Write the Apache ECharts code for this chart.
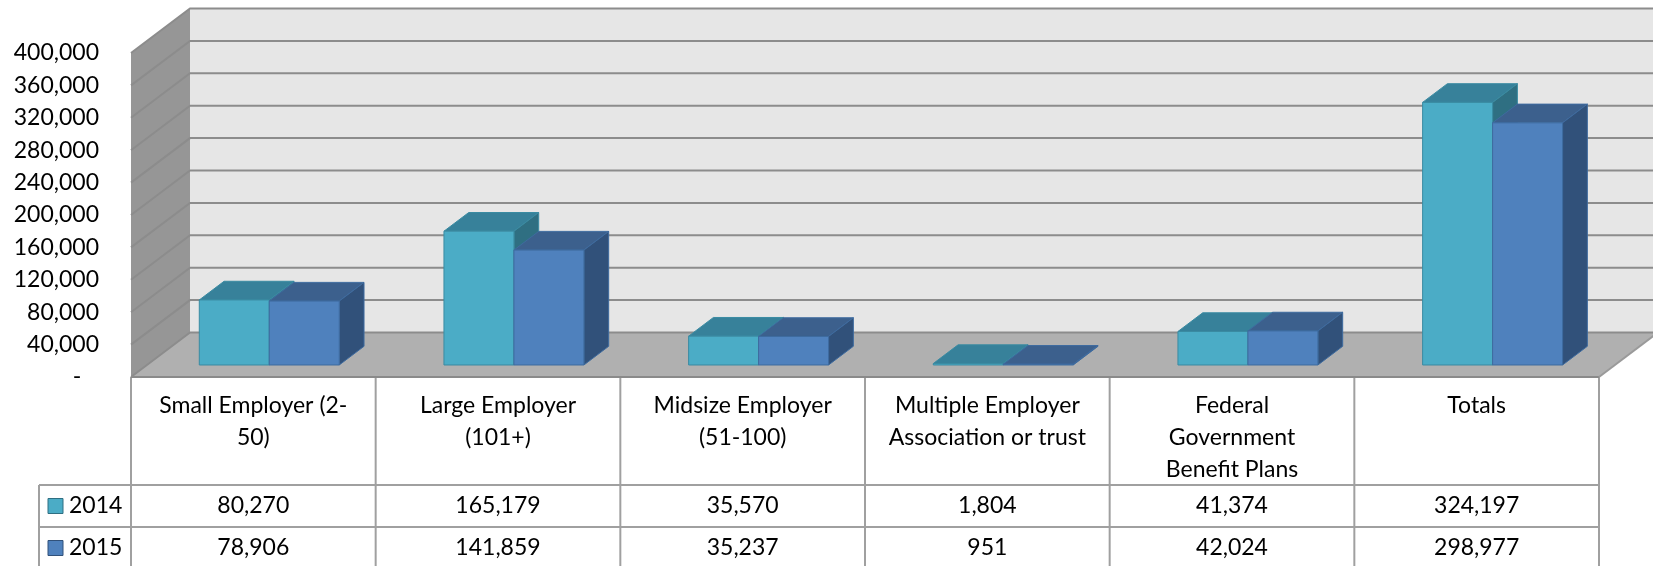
<!DOCTYPE html>
<html>
<head>
<meta charset="utf-8">
<script src="https://cdn.jsdelivr.net/npm/echarts@6/dist/echarts.min.js"></script>
<style>
    html, body { margin: 0; padding: 0; background: #fff; }
    #main { width: 1653px; height: 566px; }
</style>
</head>
<body>
<div id="main"></div>
<script>
var categories = ['Small Employer (2-\n50)', 'Large Employer\n(101+)', 'Midsize Employer\n(51-100)',
    'Multiple Employer\nAssociation or trust', 'Federal\nGovernment\nBenefit Plans', 'Totals'];
var years = ['2014', '2015'];
var values2014 = [80270, 165179, 35570, 1804, 41374, 324197];
var values2015 = [78906, 141859, 35237, 951, 42024, 298977];
var yTicks = [0, 40000, 80000, 120000, 160000, 200000, 240000, 280000, 320000, 360000, 400000];

// layout of the fake 3d box
var GRID_LEFT = 131, GRID_TOP = 53, GRID_BOTTOM = 189, GRID_RIGHT = 54;
var GRID_WIDTH = 1653 - GRID_LEFT - GRID_RIGHT;
var DX = 59, DY = -44.5;        // depth offset of back wall
var F1 = 0.27, F2 = 0.69;       // bar front/back depth
var BAR_FRAC = 0.286;
var FONT = 'Lato, "Open Sans", sans-serif';
var FS = 23;

var barColors = [
    {front: '#4BACC6', top: '#37819A', side: '#2F6F82', line: '#3A8BA2'},
    {front: '#4F81BD', top: '#3C608D', side: '#31517A', line: '#3E6B9F'}
];

var chart = echarts.init(document.getElementById('main'));

function fmt(v) {
    if (v === 0) return '-   ';
    return String(v).replace(/\B(?=(\d{3})+(?!\d))/g, ',');
}

function wallItem(params, api) {
    var cs = params.coordSys;
    var yb = api.coord([0, 0])[1];
    var yt = api.coord([0, yTicks[yTicks.length - 1]])[1];
    var xl = cs.x, xr = cs.x + cs.width;
    return {
        type: 'group',
        children: [
            {type: 'rect', shape: {x: xl + DX, y: yt + DY, width: cs.width, height: yb - yt}, style: {fill: '#E6E6E6'}},
            {type: 'polygon', shape: {points: [[xl, yb], [xr, yb], [xr + DX, yb + DY], [xl + DX, yb + DY]]}, style: {fill: '#B0B0B0'}},
            {type: 'polygon', shape: {points: [[xl, yb], [xl, yt], [xl + DX, yt + DY], [xl + DX, yb + DY]]}, style: {fill: '#969696'}},
            {type: 'line', shape: {x1: xl, y1: yb, x2: xr, y2: yb}, style: {stroke: '#8a8a8a', lineWidth: 2}},
            {type: 'line', shape: {x1: xr, y1: yb, x2: xr + DX, y2: yb + DY}, style: {stroke: '#9a9a9a', lineWidth: 2}}
        ]
    };
}

function gridItem(params, api) {
    var cs = params.coordSys;
    var y = api.coord([0, api.value(1)])[1];
    var xl = cs.x, xr = cs.x + cs.width;
    return {
        type: 'polyline',
        shape: {points: [[xl, y], [xl + DX, y + DY], [xr + DX, y + DY]]},
        style: {stroke: '#8c8c8c', lineWidth: 2, fill: null}
    };
}

function barItem(yearIdx) {
    return function (params, api) {
        var cat = api.value(0);
        var base = api.coord([cat, 0]);
        var top = api.coord([cat, api.value(1)]);
        var bw = api.size([1, 0])[0];
        var w = bw * BAR_FRAC;
        var xl = base[0] - w + yearIdx * w;
        var xr = xl + w;
        var fx = F1 * DX, fy = F1 * DY, bx = F2 * DX, by = F2 * DY;
        var yb = base[1], yt = top[1];
        var c = barColors[yearIdx];
        return {
            type: 'group',
            children: [
                {type: 'polygon', shape: {points: [[xl + fx, yt + fy], [xr + fx, yt + fy], [xr + bx, yt + by], [xl + bx, yt + by]]},
                    style: {fill: c.top, stroke: c.line, lineWidth: 1}},
                {type: 'polygon', shape: {points: [[xr + fx, yt + fy], [xr + bx, yt + by], [xr + bx, yb + by], [xr + fx, yb + fy]]},
                    style: {fill: c.side, stroke: c.line, lineWidth: 1}},
                {type: 'rect', shape: {x: xl + fx, y: yt + fy, width: w, height: yb - yt},
                    style: {fill: c.front, stroke: c.line, lineWidth: 1}}
            ]
        };
    };
}

// data table below the plot
function buildTable() {
    var els = [];
    var colW = GRID_WIDTH / categories.length;
    var yTop = 566 - GRID_BOTTOM;
    var yHead = 485, yRow2 = 527, yEnd = 570;
    var lineStyle = {stroke: '#a0a0a0', lineWidth: 2};
    for (var i = 0; i <= categories.length; i++) {
        var x = GRID_LEFT + i * colW;
        els.push({type: 'line', shape: {x1: x, y1: yTop, x2: x, y2: yEnd}, style: lineStyle});
    }
    els.push({type: 'line', shape: {x1: 39, y1: yHead, x2: 39, y2: yEnd}, style: lineStyle});
    els.push({type: 'line', shape: {x1: 39, y1: yHead, x2: GRID_LEFT + GRID_WIDTH, y2: yHead}, style: lineStyle});
    els.push({type: 'line', shape: {x1: 39, y1: yRow2, x2: GRID_LEFT + GRID_WIDTH, y2: yRow2}, style: lineStyle});
    categories.forEach(function (name, i) {
        var cx = GRID_LEFT + (i + 0.5) * colW;
        els.push({type: 'text', style: {text: name, x: cx, y: 390, align: 'center', verticalAlign: 'top',
            fill: '#000', font: FS + 'px ' + FONT, lineHeight: 32}});
        els.push({type: 'text', style: {text: fmt(values2014[i]), x: cx, y: 506, align: 'center', verticalAlign: 'middle',
            fill: '#000', font: FS + 'px ' + FONT}});
        els.push({type: 'text', style: {text: fmt(values2015[i]), x: cx, y: 548, align: 'center', verticalAlign: 'middle',
            fill: '#000', font: FS + 'px ' + FONT}});
    });
    years.forEach(function (yr, k) {
        var cy = k === 0 ? 506 : 548;
        els.push({type: 'rect', shape: {x: 48, y: cy - 7.5, width: 15, height: 15},
            style: {fill: barColors[k].front, stroke: barColors[k].side, lineWidth: 1}});
        els.push({type: 'text', style: {text: yr, x: 69, y: cy, align: 'left', verticalAlign: 'middle',
            fill: '#000', font: FS + 'px ' + FONT}});
    });
    return els;
}

var option = {
    animation: false,
    grid: {left: GRID_LEFT, right: GRID_RIGHT, top: GRID_TOP, bottom: GRID_BOTTOM},
    xAxis: {
        type: 'category',
        data: categories,
        axisLine: {show: false},
        axisTick: {show: false},
        axisLabel: {show: false}
    },
    yAxis: {
        type: 'value',
        min: yTicks[0],
        max: yTicks[yTicks.length - 1],
        interval: yTicks[1] - yTicks[0],
        axisLine: {show: false},
        axisTick: {show: false},
        splitLine: {show: false},
        axisLabel: {
            margin: 32,
            color: '#000',
            fontSize: FS,
            fontFamily: FONT,
            padding: [4, 0, 0, 0],
            formatter: fmt
        }
    },
    graphic: buildTable(),
    series: [
        {type: 'custom', name: 'walls', clip: false, z: 1, renderItem: wallItem, data: [[0, 0]], silent: true},
        {type: 'custom', name: 'gridlines', clip: false, z: 2, renderItem: gridItem, silent: true,
            data: yTicks.map(function (v) { return [0, v]; })},
        {type: 'custom', name: years[0], clip: false, z: 3, renderItem: barItem(0),
            data: values2014.map(function (v, i) { return [i, v]; })},
        {type: 'custom', name: years[1], clip: false, z: 4, renderItem: barItem(1),
            data: values2015.map(function (v, i) { return [i, v]; })}
    ]
};
chart.setOption(option);
</script>
</body>
</html>
